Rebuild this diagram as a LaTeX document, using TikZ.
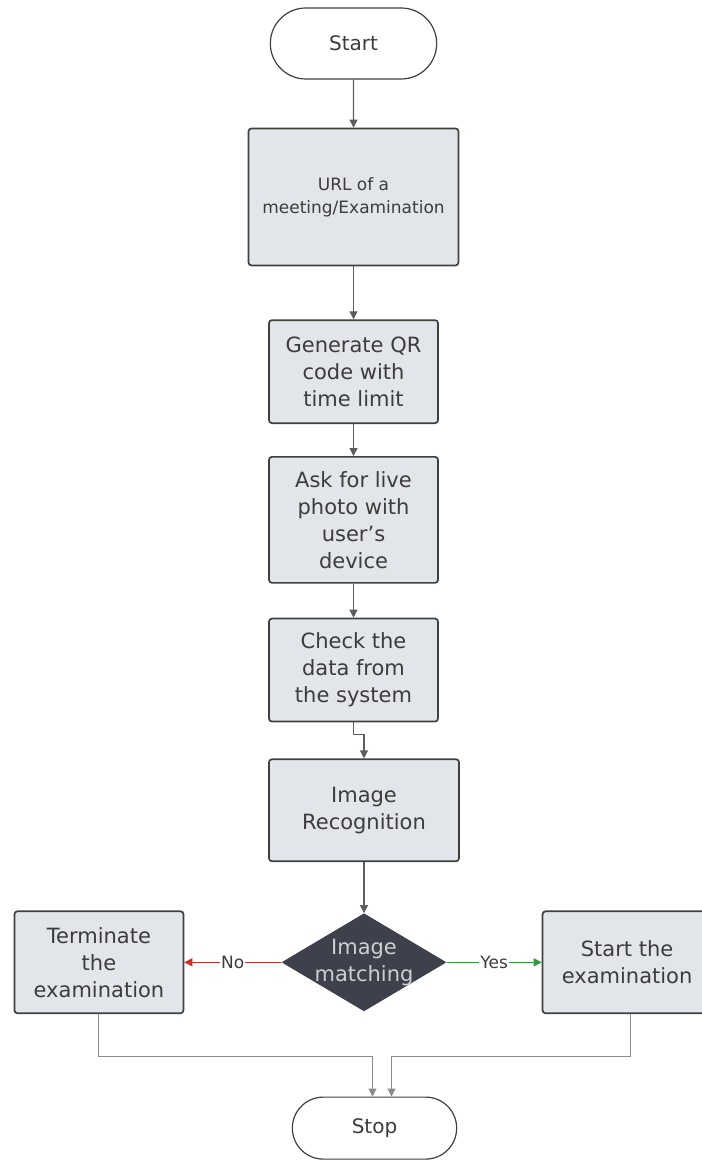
\documentclass[tikz,border=0pt]{standalone}
\usepackage{fontspec}
\setmainfont{DejaVu Sans}
\usepackage{xcolor}
\usepackage{tikz}
\usetikzlibrary{positioning, arrows.meta, shapes.geometric, shapes.misc}

\definecolor{boxfill}{HTML}{E2E5EA}
\definecolor{boxline}{HTML}{404040}
\definecolor{txt}{HTML}{3C3C3C}
\definecolor{decfill}{HTML}{3E414B}
\definecolor{dectxt}{HTML}{CDCFD4}
\definecolor{nored}{HTML}{C8302C}
\definecolor{yesgreen}{HTML}{2E9A3A}

\begin{document}
\begin{tikzpicture}[
      node distance=40pt and 40pt,
      box/.style={draw=boxline, fill=boxfill, rounded corners=3pt, line width=1.7pt, align=center,
        minimum width=169pt, text=txt, font=\fontsize{21}{27}\selectfont},
      term/.style={rounded rectangle, draw=boxline, fill=white, line width=1.2pt, minimum width=173pt,
        minimum height=71pt, text=txt, font=\fontsize{20}{26}\selectfont},
      dec/.style={diamond, fill=decfill, inner sep=-6pt, aspect=1.68, minimum width=165pt,
        minimum height=98pt, align=center, text=dectxt, font=\fontsize{21}{27}\selectfont},
      lbl/.style={fill=white, inner sep=1pt, text=txt, font=\fontsize{17}{19}\selectfont},
      arr/.style={-{Triangle[length=8pt,width=8pt]}, line width=1.2pt, draw=boxline!85}
    ]
    \useasboundingbox (0pt,0pt) rectangle (701pt,-1166pt);

    \node[term] (start) at (353.5pt,-43.5pt) {Start};
    \node[box, below=48pt of start, minimum width=210pt, minimum height=137pt,
      font=\fontsize{17}{23}\selectfont] (url) {URL of a\\meeting/Examination};
    \node[box, below=53pt of url, minimum height=103pt] (gen) {Generate QR\\code with\\time limit};
    \node[box, below=32pt of gen, minimum height=126pt] (ask) {Ask for live\\photo with\\user's\\device};
    \node[box, below=34pt of ask, minimum height=103pt] (check) {Check the\\data from\\the system};
    \node[box, below=36pt of check, xshift=10.5pt, minimum width=190pt, minimum height=102pt] (imgrec) {Image\\Recognition};
    \node[dec, below=51pt of imgrec] (match) {Image\\matching};
    \node[box, left=97pt of match, minimum height=102pt] (stopexam) {Terminate\\the\\examination};
    \node[box, right=95pt of match, minimum height=102pt] (startexam) {Start the\\examination};
    \node[term, below=85pt of match, xshift=10.5pt, minimum width=171pt, minimum height=62pt] (stop) {Stop};

    \draw[arr] (start) -- (url);
    \draw[arr] (url) -- (gen);
    \draw[arr] (gen) -- (ask);
    \draw[arr] (ask) -- (check);
    \draw[arr] (check.south) -- ++(0,-12pt) -| (imgrec.north);
    \draw[arr] (imgrec.south) -- (match.north);
    \draw[arr, draw=nored] (match.west) -- node[lbl] {No} (stopexam.east);
    \draw[arr, draw=yesgreen] (match.east) -- node[lbl] {Yes} (startexam.east -| startexam.west);

    % both outcomes end at Stop
    \draw[arr, line width=1pt, draw=boxline!60] (stopexam.south) -- ++(0,-42pt) -| ([xshift=-2pt]stop.north);
    \draw[arr, line width=1pt, draw=boxline!60] ([xshift=3pt]startexam.south) -- ++(0,-42pt) -| ([xshift=17pt]stop.north);
  \end{tikzpicture}
\end{document}
